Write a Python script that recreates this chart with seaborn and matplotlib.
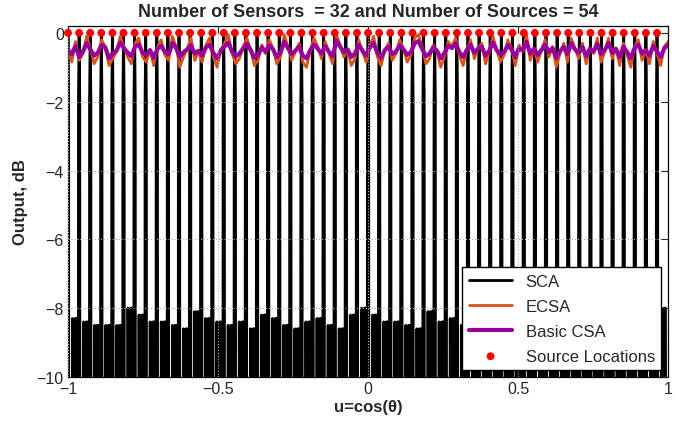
import numpy as np
import matplotlib
matplotlib.use("Agg")
import matplotlib.pyplot as plt
import seaborn as sns

# Source locations (u = cos(theta)), 54 sources
source_u = [-1.000, -0.963, -0.926, -0.889, -0.852, -0.815, -0.778, -0.741, -0.704,
            -0.667, -0.630, -0.593, -0.556, -0.519, -0.481, -0.444, -0.407, -0.370,
            -0.333, -0.296, -0.259, -0.222, -0.185, -0.148, -0.111, -0.074, -0.037,
            0.000, 0.037, 0.074, 0.111, 0.148, 0.185, 0.222, 0.259, 0.296,
            0.333, 0.370, 0.407, 0.444, 0.481, 0.519, 0.556, 0.593, 0.630,
            0.667, 0.704, 0.741, 0.778, 0.815, 0.852, 0.889, 0.926, 0.963]
source_db = [0.0] * len(source_u)

# SCA sidelobe level after each source (dB)
sca_sidelobe_db = [-8.3, -8.4, -8.5, -8.5, -8.5, -8.0, -8.2, -8.4, -8.4, -8.5, -8.6, -8.1,
                   -8.3, -8.4, -8.5, -8.4, -8.6, -8.2, -8.3, -8.5, -8.6, -8.4, -8.3, -8.5,
                   -8.6, -8.2, -8.0, -8.2, -8.4, -8.4, -8.5, -8.6, -8.1, -8.4, -8.3, -8.5,
                   -8.4, -8.6, -8.3, -8.2, -8.5, -8.4, -8.6, -8.3, -8.1, -8.4, -8.5, -8.3,
                   -8.6, -8.4, -8.2, -8.5, -8.4, -8.0]

# ECSA output (dB), sampled evenly over u in [-1, 1]
ecsa_db = [-0.45, -0.85, -0.25, -0.80, -0.60, -0.10, -0.45, -0.90, -0.70, -0.20, -0.40, -0.95, -0.75, -0.55, -0.10, -0.40, -0.70, -0.90,
           -0.30, -0.15, -0.70, -0.85, -0.50, -0.95, -0.40, -0.20, -0.65, -0.80, -0.10, -0.40, -1.00, -0.70, -0.45, -0.15, -0.80, -0.55,
           -0.85, -0.35, -0.15, -0.70, -1.00, -0.50, -0.30, -0.05, -0.60, -0.90, -0.75, -0.40, -0.15, -0.50, -0.95, -0.80, -0.35, -0.60,
           -0.20, -0.45, -0.90, -0.70, -0.05, -0.40, -0.80, -0.55, -0.30, -0.85, -1.00, -0.50, -0.15, -0.40, -0.75, -0.25, -0.60, -0.90,
           -0.05, -0.35, -0.70, -0.50, -0.95, -0.75, -0.20, -0.55, -0.85, -0.35, -0.10, -0.70, -0.95, -0.50, -0.30, -0.80, -0.60, -0.20,
           -0.45, -0.85, -0.65, -0.15, -0.05, -0.40, -0.90, -0.75, -0.35, -0.55, -1.00, -0.70, -0.25, -0.40, -0.15, -0.65, -0.95, -0.50,
           -0.20, -0.75, -0.45, -0.30, -0.90, -0.55, -0.10, -0.50, -0.85, -0.65, -0.20, -0.45, -0.95, -0.35, -0.55, -0.05, -0.80, -0.45,
           -0.85, -0.50, -0.20, -0.70, -0.40, -1.00, -0.60, -0.30, -0.85, -0.15, -0.45, -0.75, -0.30, -0.90, -0.45, -0.60, -0.15, -0.85,
           -0.55, -0.15, -0.75, -0.45, -0.95, -0.30, -0.65, -1.00, -0.40, -0.20, -0.80, -0.50, -0.90, -0.25, -0.60, -0.95, -0.40, -0.25]

# Basic CSA output (dB)
basic_csa_db = [-0.50, -0.62, -0.38, -0.70, -0.55, -0.30, -0.48, -0.66, -0.58, -0.35, -0.42, -0.74, -0.60, -0.52, -0.28, -0.45, -0.57, -0.68,
                -0.40, -0.33, -0.58, -0.64, -0.50, -0.72, -0.46, -0.38, -0.55, -0.62, -0.30, -0.44, -0.70, -0.56, -0.48, -0.36, -0.60, -0.52,
                -0.66, -0.42, -0.35, -0.58, -0.75, -0.50, -0.40, -0.28, -0.54, -0.68, -0.60, -0.45, -0.32, -0.50, -0.72, -0.64, -0.42, -0.55,
                -0.36, -0.48, -0.70, -0.58, -0.26, -0.44, -0.62, -0.52, -0.40, -0.66, -0.74, -0.50, -0.34, -0.46, -0.60, -0.38, -0.55, -0.68,
                -0.22, -0.40, -0.56, -0.48, -0.70, -0.60, -0.35, -0.52, -0.66, -0.42, -0.30, -0.58, -0.72, -0.50, -0.40, -0.62, -0.54, -0.36,
                -0.48, -0.64, -0.56, -0.30, -0.24, -0.46, -0.68, -0.60, -0.42, -0.52, -0.74, -0.58, -0.38, -0.44, -0.30, -0.56, -0.70, -0.50,
                -0.34, -0.58, -0.46, -0.40, -0.66, -0.52, -0.28, -0.50, -0.62, -0.56, -0.36, -0.48, -0.70, -0.44, -0.52, -0.26, -0.60, -0.46,
                -0.64, -0.50, -0.34, -0.56, -0.44, -0.72, -0.54, -0.40, -0.62, -0.30, -0.48, -0.58, -0.40, -0.68, -0.46, -0.54, -0.32, -0.62,
                -0.50, -0.30, -0.58, -0.46, -0.70, -0.40, -0.56, -0.74, -0.44, -0.34, -0.60, -0.50, -0.66, -0.38, -0.54, -0.70, -0.44, -0.36]

x_ticks = [-1, -0.5, 0, 0.5, 1]
y_ticks = [0, -2, -4, -6, -8, -10]

sns.set_style("white")
plt.rcParams["font.family"] = ["Liberation Sans", "DejaVu Sans"]

# SCA beam pattern: narrow main lobe at each source, deep nulls, sidelobes in between
spacing = source_u[1] - source_u[0]
null_db = -40
sca_u, sca_db = [], []
for u0, side in zip(source_u, sca_sidelobe_db):
    offs = (-0.09, -0.06, 0, 0.06, 0.09, 0.38, 0.40, 0.52, 0.64, 0.76, 0.91)
    lvls = (null_db, -2, 0, -2, null_db, null_db, side, null_db, side, side, null_db)
    sca_u += [u0 + f * spacing for f in offs]
    sca_db += list(lvls)

u_grid = np.linspace(-1, 1, len(ecsa_db))

fig = plt.figure(figsize=(6.89, 4.27), dpi=100)
ax = fig.add_axes([0.0987, 0.1148, 0.871, 0.822])

sns.lineplot(x=sca_u, y=sca_db, sort=False, estimator=None, color="black", lw=2, label="SCA", ax=ax)
sns.lineplot(x=u_grid, y=ecsa_db, sort=False, estimator=None, color="#D95319", lw=2, label="ECSA", ax=ax)
sns.lineplot(x=u_grid, y=basic_csa_db, sort=False, estimator=None, color="#990099", lw=3, label="Basic CSA", ax=ax)
sns.scatterplot(x=source_u, y=source_db, color="red", s=32, edgecolor="none", label="Source Locations",
                ax=ax, zorder=5, clip_on=False)

ax.set_xlim(-1, 1)
ax.set_ylim(-10, 0.2)
ax.set_xticks(x_ticks)
ax.set_xticklabels(["\u22121", "\u22120.5", "0", "0.5", "1"])
ax.set_yticks(y_ticks)
ax.set_yticklabels(["0", "\u22122", "\u22124", "\u22126", "\u22128", "\u221210"])
ax.tick_params(direction="in", top=True, right=True, length=5, width=0.8, labelsize=11.5, pad=3)
ax.grid(True, linestyle=":", color="#b8b8b8", linewidth=0.8)
ax.set_axisbelow(False)
for sp in ax.spines.values():
    sp.set_color("black")
    sp.set_linewidth(0.9)

ax.set_title("Number of Sensors  = 32 and Number of Sources = 54", fontsize=13, fontweight="bold", pad=7)
ax.set_xlabel("u=cos(\u03b8)", fontsize=12, fontweight="bold", labelpad=2)
ax.set_ylabel("Output, dB", fontsize=12, fontweight="bold", labelpad=6)

leg = ax.legend(loc="lower right", fontsize=12, frameon=True, fancybox=False, framealpha=1,
                edgecolor="black", handlelength=2.6, borderaxespad=0.4, labelspacing=0.6)
leg.get_frame().set_linewidth(1.0)

fig.savefig("out.png", dpi=100)
